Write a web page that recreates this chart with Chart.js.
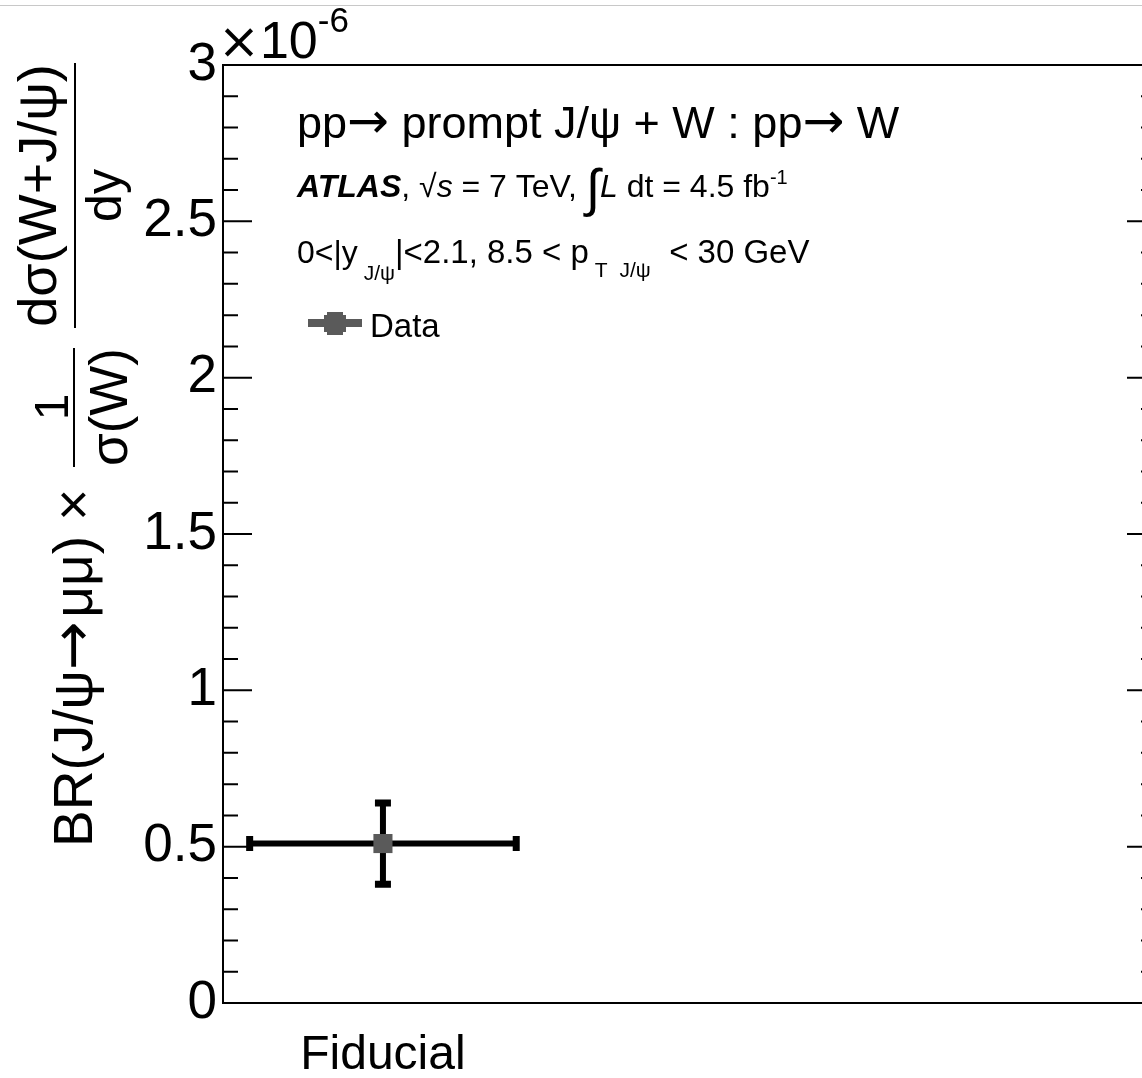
<!DOCTYPE html>
<html>
<head>
<meta charset="utf-8">
<script src="https://cdn.jsdelivr.net/npm/chart.js@4.4.1/dist/chart.umd.min.js"></script>
<style>
  html, body { margin: 0; padding: 0; background: #fff; overflow: hidden; width: 1142px; height: 1078px; }
  #wrap { width: 1170px; height: 1078px; }
</style>
</head>
<body>
<div id="wrap"><canvas id="chart" width="1170" height="1078"></canvas></div>
<script>
// data (y in units of 1e-6)
const categories = ['Fiducial'];
const xCenters = [0.6];
const xHalfWidths = [0.5];
const values = [0.51];
const errLow = [0.13];
const errHigh = [0.13];

const yMin = 0;
const yMax = 3;
const yMajorStep = 0.5;
const yMinorStep = 0.1;

const FONT = '"Liberation Sans", Arial, Helvetica, sans-serif';
const SYM = '"DejaVu Sans", sans-serif';
const markerColor = '#5a5a5a';

function font(size, style, fam) {
    return (style || '') + ' ' + size + 'px ' + (fam || FONT);
}

// draws text pieces one after another, returns end x
function drawRuns(ctx, x, y, runs) {
    runs.forEach(r => {
        ctx.font = font(r.size, r.style, r.fam);
        ctx.fillText(r.t, x, y + (r.dy || 0));
        x += ctx.measureText(r.t).width + (r.gap || 0);
    });
    return x;
}

const errorBars = {
    id: 'errorBars',
    beforeDatasetsDraw(chart) {
        const ctx = chart.ctx;
        const xs = chart.scales.x, ys = chart.scales.y;
        ctx.save();
        ctx.strokeStyle = '#000';
        values.forEach((v, i) => {
            const px = xs.getPixelForValue(xCenters[i]);
            const py = ys.getPixelForValue(v);
            const x0 = xs.getPixelForValue(xCenters[i] - xHalfWidths[i]);
            const x1 = xs.getPixelForValue(xCenters[i] + xHalfWidths[i]);
            const y0 = ys.getPixelForValue(v - errLow[i]);
            const y1 = ys.getPixelForValue(v + errHigh[i]);
            ctx.lineWidth = 6;
            ctx.beginPath();
            ctx.moveTo(x0, py); ctx.lineTo(x1, py);
            ctx.moveTo(px, y0); ctx.lineTo(px, y1);
            ctx.stroke();
            ctx.lineWidth = 7;
            ctx.beginPath();
            ctx.moveTo(x0, py - 7.5); ctx.lineTo(x0, py + 7.5);
            ctx.moveTo(x1, py - 7.5); ctx.lineTo(x1, py + 7.5);
            ctx.moveTo(px - 8, y0); ctx.lineTo(px + 8, y0);
            ctx.moveTo(px - 8, y1); ctx.lineTo(px + 8, y1);
            ctx.stroke();
        });
        ctx.restore();
    }
};

const decorations = {
    id: 'decorations',
    afterDraw(chart) {
        const ctx = chart.ctx;
        const a = chart.chartArea;
        const ys = chart.scales.y;
        ctx.save();

        // thin grey line at the very top
        ctx.fillStyle = '#c8c8c8';
        ctx.fillRect(0, 5, 1170, 1);

        // frame
        ctx.strokeStyle = '#000';
        ctx.lineWidth = 2;
        ctx.strokeRect(a.left, a.top, a.right - a.left, a.bottom - a.top);

        // inward ticks, left and right
        const nMinor = Math.round((yMax - yMin) / yMinorStep);
        const perMajor = Math.round(yMajorStep / yMinorStep);
        ctx.beginPath();
        for (let i = 0; i <= nMinor; i++) {
            const py = ys.getPixelForValue(yMin + i * yMinorStep);
            const len = i % perMajor === 0 ? 29 : 15;
            ctx.moveTo(a.left, py); ctx.lineTo(a.left + len, py);
            ctx.moveTo(a.right, py); ctx.lineTo(a.right - len, py);
        }
        ctx.stroke();

        ctx.fillStyle = '#000';
        ctx.textBaseline = 'alphabetic';
        ctx.textAlign = 'left';

        // exponent
        drawRuns(ctx, 218, 58, [
            { t: '×', size: 50, fam: SYM },
            { t: '10', size: 52 },
            { t: '-6', size: 35, dy: -26 }
        ]);

        // header texts
        drawRuns(ctx, 297, 138, [
            { t: 'pp', size: 45 },
            { t: '→', size: 50, fam: SYM },
            { t: ' prompt J/ψ + W : pp', size: 45 },
            { t: '→', size: 50, fam: SYM },
            { t: ' W', size: 45 }
        ]);
        drawRuns(ctx, 297, 197, [
            { t: 'ATLAS', size: 32, style: 'italic bold' },
            { t: ', ', size: 32 },
            { t: '√', size: 32 },
            { t: 's', size: 32, style: 'italic' },
            { t: ' = 7 TeV, ', size: 32 },
            { t: '∫', size: 52, dy: 9 },
            { t: 'L', size: 32, style: 'italic' },
            { t: ' dt = 4.5 fb', size: 32 },
            { t: '-1', size: 20, dy: -13 }
        ]);
        drawRuns(ctx, 297, 263, [
            { t: '0<|y', size: 32 },
            { t: ' J/ψ', size: 21, dy: 17 },
            { t: '|<2.1, 8.5 < p', size: 33 },
            { t: ' T', size: 21, dy: 14, gap: 12 },
            { t: 'J/ψ', size: 21, dy: 14 },
            { t: '  < 30 GeV', size: 33 }
        ]);

        // legend
        ctx.fillStyle = markerColor;
        ctx.fillRect(308, 319, 54, 8);
        ctx.fillRect(327, 312, 16, 23);
        ctx.fillRect(324, 315, 22, 17);
        ctx.fillStyle = '#000';
        drawRuns(ctx, 370, 337, [{ t: 'Data', size: 33 }]);

        // rotated y title
        ctx.rotate(-Math.PI / 2);
        drawRuns(ctx, -847, 92, [
            { t: 'BR(J/ψ', size: 55 },
            { t: '→', size: 58, fam: SYM, gap: 4 },
            { t: 'μμ) ×', size: 55 }
        ]);
        ctx.textAlign = 'center';
        ctx.font = font(48);
        ctx.fillText('1', -407, 68);
        ctx.font = font(53);
        ctx.fillText('σ(W)', -407, 127);
        ctx.fillRect(-467, 73, 119, 2);
        ctx.font = font(54);
        ctx.fillText('dσ(W+J/ψ)', -195.5, 56);
        ctx.font = font(50);
        ctx.fillText('dy', -195.5, 121);
        ctx.fillRect(-328, 74, 265, 2);

        ctx.restore();
    }
};

new Chart(document.getElementById('chart'), {
    type: 'scatter',
    data: {
        datasets: [{
            label: 'Data',
            data: values.map((v, i) => ({ x: xCenters[i], y: v })),
            pointStyle: 'rect',
            pointRadius: 13.5,
            pointBackgroundColor: markerColor,
            pointBorderWidth: 0,
            showLine: false
        }]
    },
    options: {
        responsive: false,
        devicePixelRatio: 1,
        animation: false,
        events: [],
        layout: { padding: { top: 65, right: 14, left: 0, bottom: 0 } },
        plugins: {
            legend: { display: false },
            tooltip: { enabled: false }
        },
        scales: {
            x: {
                type: 'linear',
                min: 0,
                max: 3.5,
                afterFit: s => { s.height = 75; },
                afterBuildTicks: s => { s.ticks = xCenters.map(v => ({ value: v })); },
                ticks: {
                    callback: (v, i) => categories[i],
                    font: { size: 48, family: FONT },
                    color: '#000',
                    padding: 24,
                    maxRotation: 0,
                    autoSkip: false
                },
                grid: { display: false, drawTicks: false },
                border: { display: false }
            },
            y: {
                min: yMin,
                max: yMax,
                afterFit: s => { s.width = 223; },
                ticks: {
                    stepSize: yMajorStep,
                    callback: v => String(Number(v.toFixed(1))),
                    font: { size: 53, family: FONT },
                    color: '#000',
                    padding: 6
                },
                grid: { display: false, drawTicks: false },
                border: { display: false }
            }
        }
    },
    plugins: [errorBars, decorations]
});
</script>
</body>
</html>
